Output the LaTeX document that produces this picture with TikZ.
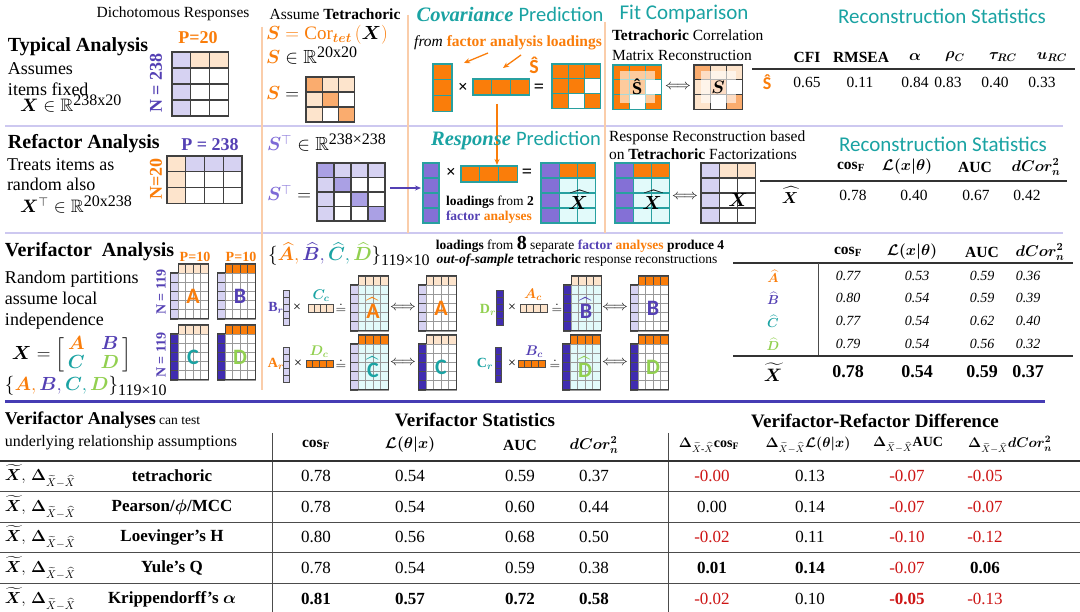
\RequirePackage{fix-cm}
\documentclass[tikz,border=0pt]{standalone}
\usepackage{amsmath,amssymb,bm}
\usepackage{fontspec}
\setmainfont{Liberation Serif}
\newfontfamily\carl{Carlito}
\usetikzlibrary{arrows.meta}
\definecolor{cO}{RGB}{250,125,10}
\definecolor{cP}{RGB}{253,228,204}
\definecolor{cM}{RGB}{250,172,110}
\definecolor{cL}{RGB}{214,210,242}
\definecolor{cQ}{RGB}{170,160,228}
\definecolor{cV}{RGB}{132,112,214}
\definecolor{cD}{RGB}{64,44,176}
\definecolor{cC}{RGB}{226,250,250}
\definecolor{cPu}{RGB}{84,64,180}
\definecolor{cS}{RGB}{125,105,215}
\definecolor{cT}{RGB}{26,163,163}
\definecolor{cTb}{RGB}{40,160,160}
\definecolor{cG}{RGB}{146,208,80}
\definecolor{cLav}{RGB}{205,200,240}
\definecolor{cSepO}{RGB}{250,205,170}
\definecolor{cBl}{RGB}{70,60,180}
\definecolor{cR}{RGB}{205,20,20}
\newcommand\fs[1]{\fontsize{#1}{#1}\selectfont}
\newcommand\rd[1]{\textcolor{cR}{#1}}
\newcommand\bigsup[1]{^{\hbox{\fs{16}#1}}}
\newcommand\bigsub[1]{_{\hbox{\fs{16}#1}}}
% grid: x0 y0 cw ch style rows
\newcommand\mgrid[6]{%
  \foreach \gRow [count=\gR from 0] in {#6} {%
    \foreach \gC [count=\gK from 0] in \gRow {%
      \fill[fill=\gC] ({#1+\gK*#3},{#2+\gR*#4}) rectangle ++(#3,#4);
      \draw[#5] ({#1+\gK*#3},{#2+\gR*#4}) rectangle ++(#3,#4);
    }%
  }%
}
% column vector: x0 y0 cw ch n color style
\newcommand\cvec[7]{%
  \foreach \gR in {1,...,#5} {%
    \fill[fill=#6] (#1,{#2+(\gR-1)*#4}) rectangle ++(#3,#4);
    \draw[#7] (#1,{#2+(\gR-1)*#4}) rectangle ++(#3,#4);
  }%
}
% row vector: x0 y0 cw ch n color style
\newcommand\rvec[7]{%
  \foreach \gK in {1,...,#5} {%
    \fill[fill=#6] ({#1+(\gK-1)*#3},#2) rectangle ++(#3,#4);
    \draw[#7] ({#1+(\gK-1)*#3},#2) rectangle ++(#3,#4);
  }%
}
\newcommand\vmat[7]{%
  \foreach \gK in {0,1,2,3} {%
    \fill[fill=#3] ({#1+\gK*7.5},{#2-9}) rectangle ++(7.5,9);
    \draw[vdark] ({#1+\gK*7.5},{#2-9}) rectangle ++(7.5,9);
  }%
  \foreach \gR in {0,...,4} {%
    \fill[fill=#4] ({#1-7.5},{#2+\gR*9.2}) rectangle ++(7.5,9.2);
    \draw[vdark] ({#1-7.5},{#2+\gR*9.2}) rectangle ++(7.5,9.2);
  }%
  \foreach \gK in {0,1,2,3} {\foreach \gR in {0,...,4} {%
    \fill[fill=#5] ({#1+\gK*7.5},{#2+\gR*9.2}) rectangle ++(7.5,9.2);
    \draw[vlight] ({#1+\gK*7.5},{#2+\gR*9.2}) rectangle ++(7.5,9.2);
  }}%
  \draw[vout] (#1,{#2-9}) -- ++(30,0) -- ++(0,55) -- ++(-37.5,0) -- ++(0,-46) -- ++(7.5,0) -- cycle;
  \node[font=\fs{22}\carl\bfseries] (#6) at ({#1+15},{#2+23}) {#7};
}
\newcommand\hatl[2]{\textcolor{#1}{$\widehat{\hbox{\carl\bfseries #2}}$}}
\newcommand\dsub{_{\widetilde{X}-\widehat{X}}}
\newcommand\trowA[7]{%
  \node[anchor=west,font=\fs{16}] (#1l) at (5,#2) {$\widetilde{\bm X},\,\bm\Delta\dsub$};
  \node[font=\fs{17}\bfseries] (#1n) at (172,#2) {#3};
  \node[font=\fs{17}] (#1a) at (316,#2) {#4};
  \node[font=\fs{17}] (#1b) at (410,#2) {#5};
  \node[font=\fs{17}] (#1c) at (520,#2) {#6};
  \node[font=\fs{17}] (#1d) at (594,#2) {#7};
}
\newcommand\trowB[6]{%
  \node[font=\fs{17}] (#1e) at (712,#2) {#3};
  \node[font=\fs{17}] (#1f) at (810,#2) {#4};
  \node[font=\fs{17}] (#1g) at (907,#2) {#5};
  \node[font=\fs{17}] (#1h) at (985,#2) {#6};
}
\newcommand\vrow[7]{%
  \node[font=\fs{13}] (#1l) at (773,#2) {#3};
  \node[font=\fs{14}\itshape] (#1a) at (848,#2) {#4};
  \node[font=\fs{14}\itshape] (#1b) at (917,#2) {#5};
  \node[font=\fs{14}\itshape] (#1c) at (982,#2) {#6};
  \node[font=\fs{14}\itshape] (#1d) at (1028,#2) {#7};
}
\tikzset{
  mline/.style={draw=black!75, line width=1.1pt},
  tline/.style={draw=cTb, line width=1.1pt},
  vdark/.style={draw=black!70, line width=0.7pt},
  vlight/.style={draw=black!40, line width=0.6pt},
  vout/.style={draw=black!75, line width=1pt},
  oarrow/.style={draw=cO, line width=1.3pt, -{Stealth[length=6pt,width=5pt]}},
  parrow/.style={draw=cPu, line width=1.3pt, -{Stealth[length=6pt,width=5pt]}},
  sepH/.style={draw=cLav, line width=2pt},
  sepV/.style={draw=cSepO, line width=1.2pt},
  tabline/.style={draw=black!80, line width=1.2pt},
  rowline/.style={draw=black!70, line width=0.8pt},
  every node/.style={inner sep=0pt, outer sep=0pt},
}
\begin{document}
\begin{tikzpicture}[x=1pt,y=-1pt]
\useasboundingbox (0,0) rectangle (1080,612);
\fill[white] (0,0) rectangle (1080,612);
% separators
\draw[sepH] (5,126) -- (1063,126);
\draw[sepH] (5,233) -- (1063,233);
\draw[sepV] (262,27) -- (262,390);
\draw[sepV] (408,15) -- (408,233);
\draw[sepV] (605,22) -- (605,233);
\draw[draw=cBl,line width=3pt] (5,402) -- (1045,402);

% ===== Typical analysis =====
\node[font=\fs{15.5}] (dich) at (173,14) {Dichotomous Responses};
\node[anchor=base west,font=\fs{20}\bfseries] (typ) at (8,52) {Typical Analysis};
\node[anchor=base west,font=\fs{18}] (typ1) at (8,75) {Assumes};
\node[anchor=base west,font=\fs{18}] (typ2) at (8,96) {items fixed};
\node[anchor=base west,font=\fs{18}] (typ3) at (20,112) {$\bm{X}\in\mathbb{R}\bigsup{238x20}$};
\node[rotate=90,font=\fs{18}\bfseries,text=cPu] (n238) at (156,83) {N = 238};
\node[font=\fs{18}\bfseries,text=cO] (p20) at (198,38) {P=20};
\mgrid{172}{52}{18.7}{16}{mline}{{cL,cP,cP},{cL,white,white},{cL,white,white},{cL,white,white}}

\node[font=\fs{15.5}] (asst) at (335,14) {Assume \textbf{Tetrachoric}};
\node[anchor=base west,font=\fs{19},text=cO] (seq) at (266,40) {$\bm{S}=\mathrm{Cor}_{\bm{tet}}\,(\textcolor{black}{\bm{X}})$};
\node[anchor=base west,font=\fs{19}] (sin) at (266,64) {$\textcolor{cO}{\bm S}\in\mathbb{R}\bigsup{20x20}$};
\node[anchor=base west,font=\fs{19}] (seq2) at (266,100) {$\textcolor{cO}{\bm S}=$};
\mgrid{306}{77}{16.3}{15}{mline}{{cM,cP,cP},{cP,cM,white},{cP,white,cM}}

\node[font=\fs{20.5},text=cT] (covt) at (510,14) {\textbf{\textit{Covariance}} {\carl Prediction}};
\node[font=\fs{15.5}] (fromf) at (508,43) {\textit{from} \textcolor{cO}{\textbf{factor analysis loadings}}};
\coordinate (ar1s) at (488,53);
\coordinate (ar1e) at (464,63);
\coordinate (ar2s) at (521,55);
\coordinate (ar2e) at (503,68);
\draw[oarrow] (ar1s) -- (ar1e);
\draw[oarrow] (ar2s) -- (ar2e);
\node[font=\fs{20}\carl\bfseries,text=cO] (shat) at (534,65) {Ŝ};
\cvec{433}{64}{19}{15.7}{3}{cO}{tline}
\node[font=\fs{17}\bfseries] (tim1) at (463,88) {×};
\rvec{473}{79}{18.7}{16}{3}{cO}{tline}
\node[font=\fs{18}\bfseries] (eq1) at (539,88) {=};
\mgrid{552}{64}{16.3}{14.7}{tline}{{cO,cO,cO},{cO,cO,white},{cO,white,cO}}
\coordinate (covdown) at (497,104);
\coordinate (rvtop) at (497,165);
\draw[oarrow] (covdown) -- (rvtop);

\node[font=\fs{21}\carl,text=cT] (fitc) at (684,14) {Fit Comparison};
\node[anchor=base west,font=\fs{15.5}] (fit1) at (612,41) {\textbf{Tetrachoric} Correlation};
\node[anchor=base west,font=\fs{15.5}] (fit2) at (612,61) {Matrix Reconstruction};
\mgrid{613}{65}{16.3}{14.7}{tline}{{cO,cO,cO},{cO,cO,white},{cO,white,cO}}
\fill[white,opacity=0.6] (620,71) rectangle (655,103);
\node[font=\fs{18}\bfseries] (fitS1) at (637,87) {Ŝ};
\node[font=\fs{14}] (iff1) at (678,87) {$\Longleftrightarrow$};
\mgrid{694}{65}{16.3}{14.7}{mline}{{cM,cP,cP},{cP,cM,white},{cP,white,cM}}
\fill[white,opacity=0.6] (701,71) rectangle (736,103);
\node[font=\fs{18}] (fitS2) at (718,87) {$\bm{S}$};

\node[font=\fs{21}\carl,text=cT] (rs1) at (942,16) {Reconstruction Statistics};
\node[font=\fs{15.5}\bfseries] (h1a) at (807,57) {CFI};
\node[font=\fs{15.5}\bfseries] (h1b) at (861,57) {RMSEA};
\node[font=\fs{15.5}] (h1c) at (915,57) {$\bm\alpha$};
\node[font=\fs{15.5}] (h1d) at (955,57) {$\bm{\rho_C}$};
\node[font=\fs{15.5}] (h1e) at (1003,57) {$\bm{\tau_{RC}}$};
\node[font=\fs{15.5}] (h1f) at (1052,57) {$\bm{u_{RC}}$};
\draw[tabline] (752,69) -- (1075,69);
\node[font=\fs{18}\carl\bfseries,text=cO] (v1l) at (767,82) {Ŝ};
\node[font=\fs{15.5}] (v1a) at (807,82) {0.65};
\node[font=\fs{15.5}] (v1b) at (860,82) {0.11};
\node[font=\fs{15.5}] (v1c) at (915,82) {0.84};
\node[font=\fs{15.5}] (v1d) at (948,82) {0.83};
\node[font=\fs{15.5}] (v1e) at (995,82) {0.40};
\node[font=\fs{15.5}] (v1f) at (1042,82) {0.33};

% ===== Refactor analysis =====
\node[anchor=base west,font=\fs{20}\bfseries] (ref) at (8,149) {Refactor Analysis};
\node[anchor=base west,font=\fs{18}] (ref1) at (7,171) {Treats items as};
\node[anchor=base west,font=\fs{18}] (ref2) at (7,191) {random also};
\node[anchor=base west,font=\fs{18}] (ref3) at (20,213) {$\bm{X}^{\top}\in\mathbb{R}\bigsup{20x238}$};
\node[font=\fs{18}\bfseries,text=cPu] (p238) at (210,145) {P = 238};
\node[rotate=90,font=\fs{18}\bfseries,text=cO] (n20) at (156,179) {N=20};
\mgrid{167}{156}{18.75}{15.7}{mline}{{cP,cL,cL,cL},{cP,white,white,white},{cP,white,white,white}}

\node[anchor=base west,font=\fs{19}] (stin) at (267,151) {$\textcolor{cS}{\bm{S}^{\top}}\in\mathbb{R}\bigsup{238×238}$};
\node[anchor=base west,font=\fs{19}] (steq) at (267,201) {$\textcolor{cS}{\bm{S}^{\top}}=$};
\mgrid{317}{163}{17}{14.5}{mline}{{cQ,cL,cL,cL},{cL,cQ,white,white},{cL,white,cQ,white},{cL,white,white,cQ}}
\coordinate (stR) at (390,188);
\coordinate (cvL) at (421,188);
\draw[parrow] (stR) -- (cvL);

\node[font=\fs{20.5},text=cT] (rpt) at (516,141) {\textbf{\textit{Response}} {\carl Prediction}};
\cvec{423}{163}{16}{15}{4}{cV}{tline}
\node[font=\fs{17}\bfseries] (tim2) at (451,173) {×};
\rvec{461}{166}{18.7}{16}{3}{cO}{tline}
\node[font=\fs{18}\bfseries] (eq2) at (527,173) {=};
\node[anchor=base west,font=\fs{13.5}] (ld1) at (446,206) {\textbf{loadings} from \textbf{2}};
\node[anchor=base west,font=\fs{13.5}\bfseries] (ld2) at (446,221) {\textcolor{cPu}{factor} \textcolor{cO}{analyses}};
\mgrid{541}{163}{18.3}{15}{tline}{{cV,cO,cO},{cV,cC,cC},{cV,cC,cC},{cV,cC,cC}}
\node[font=\fs{19}] (xh1) at (578,200) {$\widehat{\bm X}$};

\node[anchor=base west,font=\fs{15.5}] (rr1) at (609,142) {Response Reconstruction based};
\node[anchor=base west,font=\fs{15.5}] (rr2) at (609,160) {on \textbf{Tetrachoric} Factorizations};
\mgrid{615}{163}{18.3}{15}{tline}{{cV,cO,cO},{cV,cC,cC},{cV,cC,cC},{cV,cC,cC}}
\node[font=\fs{19}] (xh2) at (652,200) {$\widehat{\bm X}$};
\node[font=\fs{14}] (iff2) at (685,197) {$\Longleftrightarrow$};
\mgrid{701}{163}{18.3}{15}{mline}{{cL,cP,cP},{cL,white,white},{cL,white,white},{cL,white,white}}
\node[font=\fs{19}] (xx1) at (738,200) {$\bm X$};

\node[font=\fs{21}\carl,text=cT] (rs2) at (943,144) {Reconstruction Statistics};
\node[font=\fs{15.5}] (h2a) at (851,167) {\textbf{cos}$_{\mathbf F}$};
\node[font=\fs{15.5}] (h2b) at (907,167) {$\bm{\mathcal{L}(x|\theta)}$};
\node[font=\fs{15.5}\bfseries] (h2c) at (975,167) {AUC};
\node[font=\fs{15.5}] (h2d) at (1036,167) {$\bm{dCor_n^2}$};
\draw[tabline] (760,181) -- (1067,181);
\node[font=\fs{16}] (v2l) at (790,195) {$\widehat{\bm X}$};
\node[font=\fs{15.5}] (v2a) at (853,195) {0.78};
\node[font=\fs{15.5}] (v2b) at (914,195) {0.40};
\node[font=\fs{15.5}] (v2c) at (976,195) {0.67};
\node[font=\fs{15.5}] (v2d) at (1027,195) {0.42};

% ===== Verifactor analysis =====
\node[anchor=base west,font=\fs{20}\bfseries] (ver) at (5,257) {Verifactor\ \ Analysis};
\node[anchor=base west,font=\fs{18}] (ver1) at (5,284) {Random partitions};
\node[anchor=base west,font=\fs{18}] (ver2) at (5,305) {assume local};
\node[anchor=base west,font=\fs{18}] (ver3) at (5,326) {independence};
\node[anchor=west,font=\fontsize{19}{19}\selectfont] (xblk) at (12,355) {\renewcommand\arraystretch{0.92}$\bm{X}=\left[\begin{array}{@{\,}c@{\hspace{16pt}}c@{\,}}\textcolor{cO}{\bm A}&\textcolor{cPu}{\bm B}\\\textcolor{cT}{\bm C}&\textcolor{cG}{\bm D}\end{array}\right]$};
\node[anchor=base west,font=\fs{19}] (abcd) at (5,391) {$\{\textcolor{cO}{\bm{A},}\,\textcolor{cPu}{\bm{B},}\,\textcolor{cT}{\bm{C},}\,\textcolor{cG}{\bm{D}}\}\bigsub{119×10}$};
\node[font=\fs{14}\bfseries,text=cO] (p10a) at (195,257) {P=10};
\node[font=\fs{14}\bfseries,text=cO] (p10b) at (241,257) {P=10};
\node[rotate=90,font=\fs{14}\bfseries,text=cPu] (n119a) at (161,292) {N = 119};
\node[rotate=90,font=\fs{14}\bfseries,text=cPu] (n119b) at (161,355) {N = 119};
\vmat{178}{273}{cP}{cL}{white}{mA}{\textcolor{cO}{A}}
\vmat{225}{273}{cO}{cL}{white}{mB}{\textcolor{cPu}{B}}
\vmat{178}{334}{cP}{cD}{white}{mC}{\textcolor{cT}{C}}
\vmat{225}{334}{cO}{cD}{white}{mD}{\textcolor{cG}{D}}

\node[anchor=base west,font=\fs{19}] (hatset) at (268,261) {$\{\textcolor{cO}{\widehat{\bm A},}\,\textcolor{cPu}{\widehat{\bm B},}\,\textcolor{cT}{\widehat{\bm C},}\,\textcolor{cG}{\widehat{\bm D}}\}\bigsub{119×10}$};
\node[anchor=base,font=\fs{13.5}] (ld8a) at (580,250) {\textbf{loadings} from {\fs{20}\bfseries 8} separate \textbf{\textcolor{cPu}{factor} \textcolor{cO}{analyses} produce 4}};
\node[anchor=base,font=\fs{13.5}] (ld8b) at (577,264) {\textbf{\textit{out-of-sample}} \textbf{tetrachoric} response reconstructions};

% row 1
\node[font=\fs{14}] (br) at (276,308) {\textcolor{cPu}{$\mathbf{B}_{\bm r}$}};
\cvec{283}{290}{6}{7}{5}{cL}{vdark}
\node[font=\fs{14}] (x3) at (297,308) {×};
\node[font=\fs{14}] (cc) at (321,296) {\textcolor{cT}{$\bm{C_c}$}};
\rvec{308}{304}{6.25}{8}{4}{cP}{vdark}
\node[font=\fs{14}] (dq1) at (341,308) {$\doteq$};
\vmat{358}{285}{cP}{cL}{cC}{mAh}{\hatl{cO}{A}}
\node[font=\fs{14}] (iff3) at (403,308) {$\Longleftrightarrow$};
\vmat{426}{285}{cP}{cL}{white}{mA2}{\textcolor{cO}{A}}
\node[font=\fs{14}] (dr) at (488,310) {\textcolor{cG}{$\mathbf{D}_{\bm r}$}};
\cvec{496}{290}{7}{7}{5}{cD}{vdark}
\node[font=\fs{14}] (x4) at (512,308) {×};
\node[font=\fs{14}] (ac) at (533,295) {\textcolor{cO}{$\bm{A_c}$}};
\rvec{520}{304}{6.75}{8}{4}{cP}{vdark}
\node[font=\fs{14}] (dq2) at (557,308) {$\doteq$};
\vmat{571}{285}{cP}{cD}{cC}{mBh}{\hatl{cPu}{B}}
\node[font=\fs{14}] (iff4) at (615,308) {$\Longleftrightarrow$};
\vmat{638}{285}{cO}{cL}{white}{mB2}{\textcolor{cPu}{B}}
% row 2
\node[font=\fs{14}] (arr) at (276,364) {\textcolor{cO}{$\mathbf{A}_{\bm r}$}};
\cvec{283}{347}{6}{7}{5}{cL}{vdark}
\node[font=\fs{14}] (x5) at (298,364) {×};
\node[font=\fs{14}] (dc) at (319,352) {\textcolor{cG}{$\bm{D_c}$}};
\rvec{306}{360}{6.75}{7.5}{4}{cO}{vdark}
\node[font=\fs{14}] (dq3) at (341,364) {$\doteq$};
\vmat{358}{344}{cO}{cL}{cC}{mCh}{\hatl{cT}{C}}
\node[font=\fs{14}] (iff5) at (403,363) {$\Longleftrightarrow$};
\vmat{426}{344}{cP}{cD}{white}{mC2}{\textcolor{cT}{C}}
\node[font=\fs{14}] (crr) at (485,364) {\textcolor{cT}{$\mathbf{C}_{\bm r}$}};
\cvec{495}{347}{6.5}{7}{5}{cD}{vdark}
\node[font=\fs{14}] (x6) at (512,364) {×};
\node[font=\fs{14}] (bc) at (534,352) {\textcolor{cPu}{$\bm{B_c}$}};
\rvec{518}{360}{6.75}{7.5}{4}{cO}{vdark}
\node[font=\fs{14}] (dq4) at (555,364) {$\doteq$};
\vmat{570}{344}{cO}{cD}{cC}{mDh}{\hatl{cG}{D}}
\node[font=\fs{14}] (iff6) at (615,363) {$\Longleftrightarrow$};
\vmat{638}{344}{cO}{cD}{white}{mD2}{\textcolor{cG}{D}}

% verifactor table
\node[font=\fs{15.5}] (h3a) at (848,252) {\textbf{cos}$_{\mathbf F}$};
\node[font=\fs{15.5}] (h3b) at (912,252) {$\bm{\mathcal{L}(x|\theta)}$};
\node[font=\fs{15.5}\bfseries] (h3c) at (982,252) {AUC};
\node[font=\fs{15.5}] (h3d) at (1040,252) {$\bm{dCor_n^2}$};
\draw[tabline] (733,263) -- (1073,263);
\draw[rowline] (818,263) -- (818,355);
\vrow{ra}{276}{\textcolor{cO}{$\widehat{\bm A}$}}{0.77}{0.53}{0.59}{0.36}
\vrow{rb}{298}{\textcolor{cPu}{$\widehat{\bm B}$}}{0.80}{0.54}{0.59}{0.39}
\vrow{rc}{321}{\textcolor{cT}{$\widehat{\bm C}$}}{0.77}{0.54}{0.62}{0.40}
\vrow{rd}{344}{\textcolor{cG}{$\widehat{\bm D}$}}{0.79}{0.54}{0.56}{0.32}
\draw[tabline] (733,356) -- (1073,356);
\node[font=\fs{18}] (xtl) at (773,372) {$\widetilde{\bm X}$};
\node[font=\fs{18}\bfseries] (xta) at (848,372) {0.78};
\node[font=\fs{18}\bfseries] (xtb) at (917,372) {0.54};
\node[font=\fs{18}\bfseries] (xtc) at (982,372) {0.59};
\node[font=\fs{18}\bfseries] (xtd) at (1028,372) {0.37};

% ===== bottom table =====
\node[anchor=base west,font=\fs{13.5}] (vat) at (5,425) {{\fs{18}\bfseries Verifactor Analyses} can test};
\node[anchor=base west,font=\fs{16}] (vat2) at (5,447) {underlying relationship assumptions};
\node[font=\fs{19}\bfseries] (vst) at (475,420) {Verifactor Statistics};
\node[font=\fs{19}\bfseries] (vrd) at (875,421) {Verifactor-Refactor Difference};
\draw[rowline] (272,433) -- (272,612);
\draw[rowline] (668,433) -- (668,612);
\node[font=\fs{15.5}] (b1) at (316,445) {\textbf{cos}$_{\mathbf F}$};
\node[font=\fs{15.5}] (b2) at (410,445) {$\bm{\mathcal{L}(\theta|x)}$};
\node[font=\fs{15.5}\bfseries] (b3) at (520,445) {AUC};
\node[font=\fs{15.5}] (b4) at (594,445) {$\bm{dCor_n^2}$};
\node[font=\fs{14}] (b5) at (709,445) {$\bm\Delta_{\widetilde{X}\text{-}\widehat{X}}$\textbf{cos}$_{\mathbf F}$};
\node[font=\fs{14}] (b6) at (808,445) {$\bm\Delta\dsub\bm{\mathcal{L}(\theta|x)}$};
\node[font=\fs{14}] (b7) at (908,445) {$\bm\Delta\dsub$\textbf{AUC}};
\node[font=\fs{14}] (b8) at (1010,445) {$\bm\Delta\dsub\bm{dCor_n^2}$};
\draw[tabline] (0,461) -- (1080,461);
\draw[rowline] (0,491) -- (1080,491);
\draw[rowline] (0,522) -- (1080,522);
\draw[rowline] (0,552) -- (1080,552);
\draw[rowline] (0,583) -- (1080,583);
\trowA{t1}{476}{tetrachoric}{0.78}{0.54}{0.59}{0.37}
\trowB{t1}{476}{\rd{-0.00}}{0.13}{\rd{-0.07}}{\rd{-0.05}}
\trowA{t2}{507}{Pearson/$\bm\phi$/MCC}{0.78}{0.54}{0.60}{0.44}
\trowB{t2}{507}{0.00}{0.14}{\rd{-0.07}}{\rd{-0.07}}
\trowA{t3}{537}{Loevinger's H}{0.80}{0.56}{0.68}{0.50}
\trowB{t3}{537}{\rd{-0.02}}{0.11}{\rd{-0.10}}{\rd{-0.12}}
\trowA{t4}{568}{Yule's Q}{0.78}{0.54}{0.59}{0.38}
\trowB{t4}{568}{\textbf{0.01}}{\textbf{0.14}}{\rd{-0.07}}{\textbf{0.06}}
\trowA{t5}{599}{Krippendorff's $\bm\alpha$}{\textbf{0.81}}{\textbf{0.57}}{\textbf{0.72}}{\textbf{0.58}}
\trowB{t5}{599}{\rd{-0.02}}{0.10}{\rd{\textbf{-0.05}}}{\rd{-0.13}}
\end{tikzpicture}
\end{document}
